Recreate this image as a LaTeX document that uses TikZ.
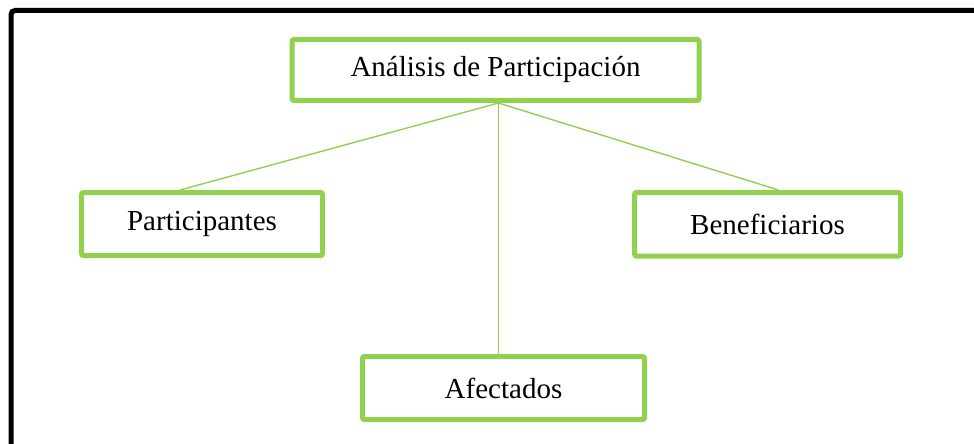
\documentclass[tikz,border=0pt]{standalone}
\usepackage{fontspec}
\setmainfont{Liberation Serif}
\definecolor{verde}{HTML}{92D050}

\begin{document}
\begin{tikzpicture}[x=0.5pt,y=-0.5pt,
        caja/.style={draw=verde, line width=2.5pt, rounded corners=1pt, fill=white,
            font=\fontsize{14.5}{17}\selectfont, inner sep=0pt},
        rama/.style={draw=verde, line width=0.7pt}]
        \useasboundingbox (0,0) rectangle (974,444);
        \draw[line width=2.5pt, rounded corners=2pt] (11,444)--(11,10.5)--(974,10.5);

        \node[caja, minimum width=203.5pt, minimum height=30.5pt] (top) at (495.5,70) {Análisis de Participación};
        \node[caja, minimum width=120.5pt, minimum height=31.5pt] (part) at (202,224) {Participantes};
        \node[caja, minimum width=133pt, minimum height=31.75pt] (benef) at (767.5,224.25) {Beneficiarios};
        \node[caja, minimum width=141pt, minimum height=31.5pt] (afect) at (503.5,388) {Afectados};

        \draw[rama] ([xshift=1.5pt]top.south)--([xshift=-11pt]part.north);
        \draw[rama] ([xshift=1.5pt]top.south)--([xshift=5.5pt]benef.north);
        \draw[rama] ([xshift=1.5pt]top.south)--([xshift=-2.5pt]afect.north);
\end{tikzpicture}
\end{document}
